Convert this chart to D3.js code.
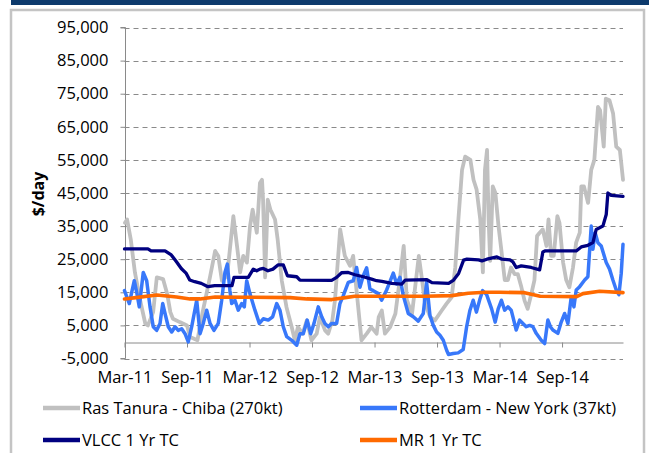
<!DOCTYPE html>
<html>
<head>
<meta charset="utf-8">
<script src="https://cdn.jsdelivr.net/npm/d3@7"></script>
<style>
  html, body { margin: 0; padding: 0; background: #ffffff; }
  svg { display: block; }
  text { font-family: "Open Sans", "Noto Sans", sans-serif; fill: #000; }
</style>
</head>
<body>
<div id="chart"></div>
<script>
// ---------- DATA (months since Mar-2011, $/day) ----------
const xTickLabels = ["Mar-11","Sep-11","Mar-12","Sep-12","Mar-13","Sep-13","Mar-14","Sep-14"];
const xTickMonths = [0, 6, 12, 18, 24, 30, 36, 42];
const yTickValues = [-5000, 5000, 15000, 25000, 35000, 45000, 55000, 65000, 75000, 85000, 95000];
const seriesNames = ["Ras Tanura - Chiba (270kt)", "Rotterdam - New York (37kt)", "VLCC 1 Yr TC", "MR 1 Yr TC"];

const rasTanura = [[0.05,36000],[0.25,37000],[0.6,31000],[1.0,21000],[1.5,12600],[2.0,5500],[2.25,5000],[2.75,9000],[3.1,19500],[3.7,19000],[4.1,14500],[4.4,9000],[4.65,7000],[5.3,6000],[6.0,5000],[6.3,1500],[7.0,500],[7.5,9000],[8.2,19500],[8.7,27500],[9.0,26000],[9.35,18500],[9.85,20000],[10.45,38000],[10.8,29000],[11.1,21000],[11.4,26000],[11.75,24000],[12.05,35000],[12.3,40000],[12.7,33000],[13.0,48000],[13.2,49000],[13.3,43000],[13.5,19500],[13.75,43000],[14.0,40000],[14.45,37000],[14.7,31000],[15.1,18500],[15.55,10500],[16.05,4500],[16.35,500],[16.65,4500],[17.1,2500],[17.5,6500],[17.95,500],[18.45,2500],[18.75,7500],[19.25,3500],[19.55,2500],[19.95,6500],[20.2,12500],[20.7,34000],[21.15,26000],[21.65,23000],[21.95,26000],[22.1,21000],[22.75,500],[23.25,2500],[23.7,4500],[24.2,2500],[24.4,7500],[24.7,9500],[25.0,2500],[25.5,4500],[26.0,8500],[26.45,19500],[26.8,29000],[27.1,12700],[27.6,8500],[28.25,26000],[28.55,19000],[28.85,11500],[29.35,7500],[29.8,6500],[30.45,9500],[30.9,11500],[31.4,13500],[31.75,22500],[32.05,37000],[32.4,52000],[32.7,56000],[33.2,55000],[33.5,49000],[33.8,46000],[34.15,37000],[34.4,21000],[34.6,52000],[34.8,58000],[34.95,37000],[35.1,24500],[35.35,47000],[35.6,45000],[35.9,35000],[36.2,27000],[36.5,18700],[36.8,18700],[37.1,22500],[37.45,20500],[37.75,20500],[38.1,16500],[38.4,12500],[38.7,10000],[39.05,14500],[39.35,18700],[39.6,32000],[39.85,33000],[40.15,34000],[40.5,29000],[40.7,37000],[40.95,26000],[41.2,26000],[41.55,38000],[41.75,36000],[42.1,24000],[42.4,18700],[42.7,16500],[43.05,22500],[43.35,30000],[43.7,33000],[43.85,47000],[44.1,47000],[44.5,42000],[44.8,52000],[45.1,55000],[45.45,71000],[45.65,70000],[46.0,59000],[46.2,73500],[46.55,73000],[46.9,69000],[47.2,59000],[47.55,58000],[47.85,49000]];

const rotterdam = [[0,15500],[0.46,11600],[0.69,15000],[0.94,18500],[1.17,15000],[1.42,10600],[1.8,21000],[2.13,18500],[2.45,10600],[2.76,4600],[3.09,3500],[3.41,5600],[3.67,11600],[3.89,8600],[4.2,4600],[4.53,3000],[4.85,4600],[5.16,3500],[5.49,4000],[5.81,2500],[6.12,0],[6.45,4600],[6.93,12600],[7.25,2500],[7.56,5600],[7.89,9600],[8.21,5600],[8.59,3500],[9.0,5600],[9.33,12600],[9.64,21000],[9.87,23500],[10.12,15500],[10.29,11600],[10.6,12600],[10.92,9600],[11.25,11600],[11.5,10600],[11.73,18500],[12.04,14600],[12.52,9600],[12.94,5600],[13.32,7000],[13.8,6600],[14.22,7600],[14.61,11600],[14.92,9600],[15.24,4600],[15.57,1600],[16.05,500],[16.53,-1000],[16.84,2500],[17.16,2500],[17.54,6600],[17.87,2500],[18.19,5600],[18.6,10600],[18.93,7600],[19.24,5600],[19.56,4600],[19.88,5600],[20.36,5600],[20.68,11600],[21.0,14000],[21.48,18000],[21.96,18500],[22.28,22500],[22.6,16500],[22.92,20000],[23.24,22400],[23.56,16000],[23.88,15500],[24.36,14600],[24.68,12600],[25.16,15700],[25.64,19500],[25.8,20800],[26.12,17500],[26.44,19500],[26.76,14000],[27.24,8600],[27.72,7600],[28.2,6300],[28.68,8600],[29.0,18000],[29.32,8000],[29.64,5000],[29.96,3000],[30.28,2000],[30.6,500],[30.92,-2500],[31.1,-3800],[31.55,-3500],[32.03,-3300],[32.51,-2300],[32.84,4600],[33.16,9600],[33.47,12600],[33.78,9000],[34.12,13000],[34.38,15500],[34.76,14300],[35.24,10000],[35.58,6000],[35.87,10000],[36.18,12600],[36.49,9600],[36.8,10600],[37.12,9600],[37.6,3600],[37.93,6600],[38.24,5600],[38.56,4600],[38.89,5000],[39.2,4600],[39.52,2600],[40.0,500],[40.33,-500],[40.64,6600],[40.88,4600],[41.12,3600],[41.6,2600],[41.92,6000],[42.25,8600],[42.56,5600],[42.88,13500],[43.14,10600],[43.36,15700],[43.69,16700],[44.17,18700],[44.48,19700],[44.8,35000],[44.96,28000],[45.18,33000],[45.44,30000],[45.76,29000],[46.24,24000],[46.56,22000],[46.88,18700],[47.2,15700],[47.46,14300],[47.68,20700],[47.85,29500]];

const vlcc = [[0,28100],[2.25,28100],[2.55,27500],[3.89,27500],[4.49,26300],[4.97,24300],[5.45,22200],[5.93,20700],[6.26,18700],[6.74,18200],[7.37,17700],[8.01,16700],[8.66,17000],[10.32,17000],[10.51,19500],[11.88,19500],[12.36,22000],[12.69,21500],[13.0,22000],[13.32,22200],[13.77,21500],[14.25,22000],[14.76,23300],[15.24,23300],[15.64,20000],[16.53,19700],[16.84,18700],[19.88,18600],[20.36,19500],[20.84,20900],[21.48,21000],[22.12,20300],[22.92,19700],[23.72,19000],[24.2,18500],[24.71,18300],[25.67,17700],[26.63,17500],[26.95,18700],[29.03,18800],[29.51,17900],[31.11,17700],[31.59,18700],[32.07,20700],[32.55,24700],[32.87,25000],[33.99,24800],[34.31,24500],[34.79,25000],[35.75,25700],[36.23,25000],[37.0,24800],[37.28,24200],[37.6,22500],[38.08,23000],[39.04,22500],[39.85,21800],[40.16,27200],[40.35,27500],[43.36,27500],[43.84,28700],[44.48,29200],[44.96,30000],[45.28,34000],[45.92,35000],[46.24,38500],[46.4,45000],[46.72,44300],[47.85,44000]];

const mr = [[0,13000],[1.1,13400],[3.1,14200],[5.0,13600],[6.3,13000],[7.25,13000],[8.7,13600],[12.04,13500],[15.9,13400],[17.5,13000],[19.9,12800],[21.2,13400],[22.1,13800],[26.4,13800],[28.8,13800],[31.4,14000],[33.0,14700],[34.6,15000],[36.0,15000],[38.4,14900],[39.9,13800],[43.4,13700],[44.0,14600],[45.6,15300],[47.85,14900]];

const seriesData = [rasTanura, rotterdam, vlcc, mr];
const seriesColors = ["#c0c0c0", "#3878fa", "#000080", "#ff6a00"];
const seriesWidths = [3.8, 3.5, 3.3, 3.6];

// ---------- LAYOUT ----------
const W = 649, H = 453;
const FS = 16.5;
const svg = d3.select("#chart").append("svg").attr("width", W).attr("height", H);

// header bar and frame
svg.append("rect").attr("x", 11).attr("y", 0).attr("width", W - 11).attr("height", 5).attr("fill", "#0d3a6c");
svg.append("rect").attr("x", 11).attr("y", 10).attr("width", 633).attr("height", 470)
  .attr("fill", "none").attr("stroke", "#c4c4c4").attr("stroke-width", 2.5);

const x = d3.scaleLinear().domain([0, 47.85]).range([124.5, 623]);
const y = d3.scaleLinear().domain([-5000, 95000]).range([358.5, 27.5]);

const fmt = d3.formatLocale({decimal: ".", thousands: ",", grouping: [3], currency: ["$", ""], minus: "-"}).format(",");

// gridlines
svg.append("g").selectAll("line").data(yTickValues).join("line")
  .attr("x1", x(0)).attr("x2", x(47.85))
  .attr("y1", d => Math.round(y(d)) + 0.5).attr("y2", d => Math.round(y(d)) + 0.5)
  .attr("stroke", "#8a8a8a").attr("stroke-width", 1).attr("stroke-dasharray", "5,4");

// y axis
const yAxis = d3.axisLeft(y).tickValues(yTickValues).tickFormat(fmt).tickSize(5).tickPadding(12);
const gy = svg.append("g").attr("transform", `translate(${Math.round(x(0)) + 0.5},0)`).call(yAxis);
gy.select(".domain").attr("stroke", "#8a8a8a").attr("d", `M-5,${y(95000)}H0V${y(-5000)}H-5`);
gy.selectAll(".tick line").attr("stroke", "#8a8a8a");
gy.selectAll(".tick text").attr("font-size", FS).attr("font-family", "Open Sans, sans-serif").attr("fill", "#000");

// x axis (at zero)
const xAxis = d3.axisBottom(x).tickValues(xTickMonths).tickFormat((d, i) => xTickLabels[i]).tickSize(5).tickSizeOuter(0);
const gx = svg.append("g").attr("transform", `translate(0,${Math.round(y(0)) + 0.5})`).call(xAxis);
gx.select(".domain").attr("stroke", "#8a8a8a");
gx.selectAll(".tick line").attr("stroke", "#8a8a8a");
gx.selectAll(".tick text").attr("font-size", FS).attr("font-family", "Open Sans, sans-serif").attr("fill", "#000")
  .attr("y", y(-5000) - y(0) + 12).attr("dy", "0.71em");

// y title
svg.append("text").attr("transform", "translate(38,194) rotate(-90)")
  .attr("text-anchor", "middle").attr("dy", "0.35em")
  .attr("font-size", 16).attr("font-weight", "bold").text("$/day");

// series
const line = d3.line().x(d => x(d[0])).y(d => y(d[1]));
seriesData.forEach((data, i) => {
  svg.append("path").datum(data).attr("d", line)
    .attr("fill", "none").attr("stroke", seriesColors[i]).attr("stroke-width", seriesWidths[i])
    .attr("stroke-linejoin", "round").attr("stroke-linecap", "round");
});

// legend
const legendPos = [[43, 408], [360, 408], [43, 440], [360, 440]];
seriesNames.forEach((name, i) => {
  const [lx, ly] = legendPos[i];
  svg.append("line").attr("x1", lx).attr("x2", lx + 37).attr("y1", ly).attr("y2", ly)
    .attr("stroke", seriesColors[i]).attr("stroke-width", 4.5);
  svg.append("text").attr("x", lx + 39).attr("y", ly).attr("dy", "0.35em")
    .attr("font-size", FS).text(name);
});
</script>
</body>
</html>
